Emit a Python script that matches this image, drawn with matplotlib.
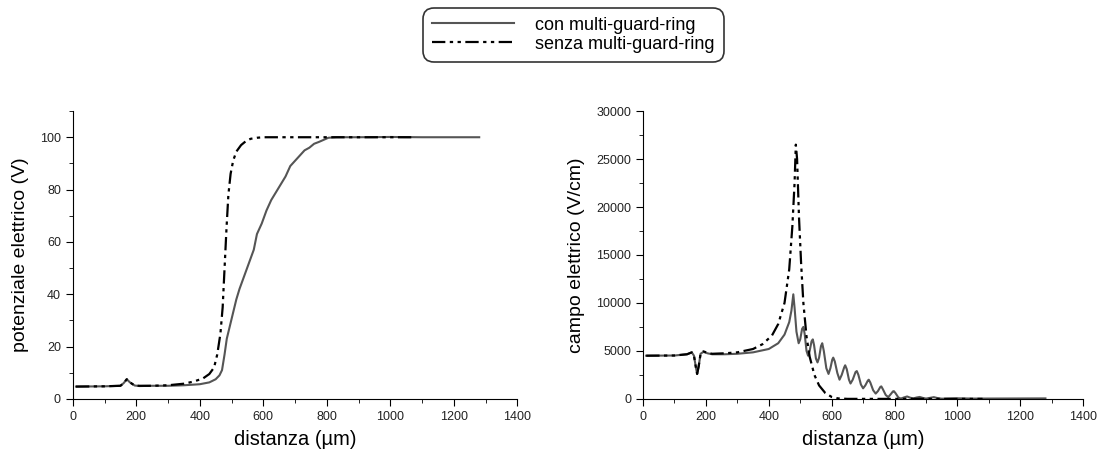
import matplotlib.pyplot as plt
from matplotlib.ticker import MultipleLocator

plt.rcParams['font.family'] = ['Liberation Sans', 'DejaVu Sans']

# potenziale - con multi-guard-ring
pot_con_x = [10, 100, 150, 160, 170, 180, 195, 210, 250, 300, 350, 400, 430, 450, 462, 470,
             478, 485, 495, 505, 515, 525, 540, 555, 570, 580, 595, 610, 625, 640, 655,
             670, 685, 700, 715, 730, 745, 760, 775, 790, 805, 830, 900, 1000, 1100, 1280]
pot_con_y = [4.7, 4.8, 5.0, 6.0, 7.5, 6.3, 5.1, 4.9, 5.0, 5.0, 5.2, 5.6, 6.3, 7.5, 9.0, 11.0,
             17.0, 23.0, 28.0, 33.0, 38.0, 42.0, 47.0, 52.0, 57.0, 63.0, 67.0, 72.0, 76.0, 79.0, 82.0,
             85.0, 89.0, 91.0, 93.0, 95.0, 96.0, 97.5, 98.2, 99.0, 99.8, 100.0, 100.0, 100.1, 100.0, 100.0]

# potenziale - senza multi-guard-ring
pot_senza_x = [10, 100, 150, 160, 170, 180, 195, 210, 250, 300, 350, 380, 410, 430, 445,
               455, 465, 472, 478, 484, 490, 497, 505, 515, 530, 545, 560, 580, 600, 650, 800, 1080]
pot_senza_y = [4.7, 4.8, 5.0, 6.0, 7.5, 6.3, 5.1, 5.0, 5.0, 5.2, 5.8, 6.6, 7.8, 9.5, 12.0,
               17.0, 25.0, 35.0, 50.0, 65.0, 78.0, 86.0, 91.0, 94.5, 97.0, 98.5, 99.4, 99.8, 100.0, 100.0, 100.0, 100.0]

# campo elettrico - con multi-guard-ring
campo_con_x = [10, 100, 140, 155, 162, 168, 172, 177, 183, 192, 205, 220, 260, 300, 350, 400,
               430, 450, 465, 472, 478, 482, 488, 495, 500, 506, 510, 514, 520, 525, 530,
               536, 540, 544, 550, 555, 560, 566, 570, 575, 583, 590, 596, 602, 605, 610,
               618, 625, 632, 640, 643, 648, 655, 660, 667, 676, 680, 685, 693, 700, 707,
               715, 718, 723, 732, 740, 747, 755, 758, 763, 772, 780, 787, 795, 798, 803,
               812, 820, 830, 840, 850, 860, 870, 880, 890, 900, 912, 925, 937, 950, 1000,
               1050, 1280]
campo_con_y = [4500, 4520, 4650, 4850, 4500, 3300, 2600, 3400, 4700, 4900, 4750, 4650, 4650, 4700, 4850, 5200,
               5800, 6700, 8000, 9200, 10900, 9500, 7000, 5800, 6200, 7300, 7500, 6800, 5000, 4500, 5000,
               6000, 6200, 5600, 4200, 3800, 4300, 5500, 5800, 5000, 3200, 2600, 3200, 4100, 4300, 3900,
               2700, 2000, 2500, 3300, 3500, 3100, 2000, 1600, 2000, 2800, 2900, 2500, 1500, 1100, 1400,
               1900, 2000, 1700, 900, 550, 800, 1250, 1300, 1000, 400, 180, 450, 780, 800, 600,
               150, 30, 150, 250, 120, 50, 140, 200, 100, 30, 100, 180, 80, 20, 60,
               30, 50]

# campo elettrico - senza multi-guard-ring
campo_senza_x = [10, 100, 140, 155, 162, 168, 172, 177, 183, 192, 205, 220, 260, 300, 350, 380,
                 410, 430, 450, 465, 475, 482, 486, 490, 496, 503, 510, 520, 530, 545, 560,
                 580, 600, 620, 650, 700, 800, 1080]
campo_senza_y = [4500, 4520, 4650, 4850, 4500, 3300, 2600, 3400, 4700, 4950, 4800, 4700, 4750, 4850, 5200, 5700,
                 6600, 7800, 10000, 13500, 18000, 22500, 26500, 25000, 19000, 14000, 10000, 6500, 4400, 2500, 1400,
                 600, 200, 50, 0, 0, 0, 0]

fig = plt.figure(figsize=(11.03, 4.59), dpi=100)
ax1 = fig.add_axes([0.066, 0.131, 0.403, 0.627])
ax2 = fig.add_axes([0.583, 0.131, 0.399, 0.627])

dash = (0, (6, 2, 1.5, 2, 1.5, 2))
l1, = ax1.plot(pot_con_x, pot_con_y, color='#555555', lw=1.5, label='con multi-guard-ring')
l2, = ax1.plot(pot_senza_x, pot_senza_y, color='black', lw=1.6, linestyle=dash,
               label='senza multi-guard-ring')
ax2.plot(campo_con_x, campo_con_y, color='#555555', lw=1.5)
ax2.plot(campo_senza_x, campo_senza_y, color='black', lw=1.6, linestyle=dash)

for ax in (ax1, ax2):
    ax.spines['top'].set_visible(False)
    ax.spines['right'].set_visible(False)
    ax.set_xlim(0, 1400)
    ax.xaxis.set_major_locator(MultipleLocator(200))
    ax.xaxis.set_minor_locator(MultipleLocator(100))
    ax.tick_params(which='major', direction='out', length=5, labelsize=9, labelcolor='#222222')
    ax.tick_params(which='minor', direction='out', length=3)
    ax.set_xlabel('distanza (µm)', fontsize=14.5, labelpad=5)

ax1.set_ylim(0, 110)
ax1.yaxis.set_major_locator(MultipleLocator(20))
ax1.yaxis.set_minor_locator(MultipleLocator(10))
ax1.set_ylabel('potenziale elettrico (V)', fontsize=14, labelpad=8)

ax2.set_ylim(0, 30000)
ax2.yaxis.set_major_locator(MultipleLocator(5000))
ax2.yaxis.set_minor_locator(MultipleLocator(2500))
ax2.set_ylabel('campo elettrico (V/cm)', fontsize=14, labelpad=8)

leg = fig.legend(handles=[l1, l2], loc='upper center', bbox_to_anchor=(0.52, 0.995),
                 fontsize=13, frameon=True, fancybox=True, handlelength=4.5,
                 borderpad=0.3, labelspacing=0.1, handletextpad=1.2)
frame = leg.get_frame()
frame.set_edgecolor('black')
frame.set_linewidth(1.2)
frame.set_boxstyle('round', pad=0.2, rounding_size=0.6)

fig.savefig('out.png', dpi=100)
